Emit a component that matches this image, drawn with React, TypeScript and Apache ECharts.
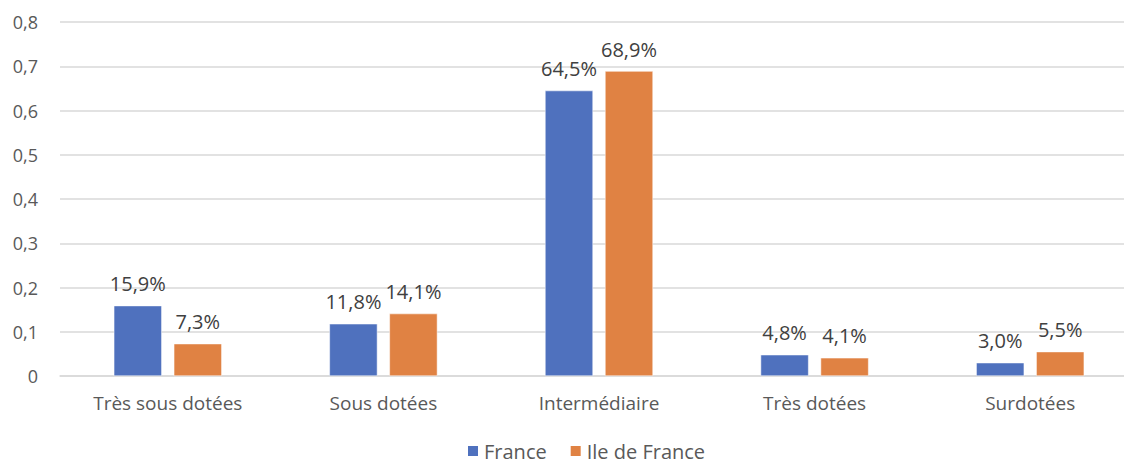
import React, { useEffect, useRef } from "react";
import * as echarts from "echarts";

const categories = ["Très sous dotées", "Sous dotées", "Intermédiaire", "Très dotées", "Surdotées"];
const franceValues = [0.159, 0.118, 0.645, 0.048, 0.03];
const idfValues = [0.073, 0.141, 0.689, 0.041, 0.055];
const yTicks = [0, 0.1, 0.2, 0.3, 0.4, 0.5, 0.6, 0.7, 0.8];

const FONT = "'Open Sans', 'Liberation Sans', sans-serif";
const fmtPct = (v: number) => (v * 100).toFixed(1).replace(".", ",") + "%";
const fmtTick = (v: number) => (v === 0 ? "0" : v.toFixed(1).replace(".", ","));

export default function App() {
  const ref = useRef<HTMLDivElement>(null);
  useEffect(() => {
    if (!ref.current) return;
    const chart = echarts.init(ref.current, undefined, { renderer: "svg" });
    const label = {
      show: true,
      position: "top" as const,
      distance: 12,
      formatter: (p: any) => fmtPct(p.value),
      color: "#404040",
      fontSize: 20,
      fontFamily: FONT,
    };
    chart.setOption({
      animation: false,
      backgroundColor: "#ffffff",
      grid: { left: 60, top: 22, bottom: 87, right: 2 },
      legend: {
        top: 441,
        left: 461,
        padding: [0, 5, 0, 5],
        itemWidth: 12,
        itemHeight: 12,
        itemGap: 22,
        icon: "rect",
        textStyle: { color: "#595959", fontSize: 20, fontFamily: FONT },
        data: ["France", "Ile de France"],
      },
      xAxis: {
        type: "category",
        data: categories,
        axisLine: { lineStyle: { color: "#d9d9d9", width: 1.5 } },
        axisTick: { show: false },
        axisLabel: { color: "#595959", fontSize: 19, fontFamily: FONT, margin: 17 },
      },
      yAxis: {
        type: "value",
        min: yTicks[0],
        max: yTicks[yTicks.length - 1],
        interval: 0.1,
        axisLine: { show: false },
        axisTick: { show: false },
        splitLine: { lineStyle: { color: "#d9d9d9", width: 1.5 } },
        axisLabel: {
          color: "#595959",
          fontSize: 18,
          fontFamily: FONT,
          margin: 22,
          formatter: (v: number) => fmtTick(v),
        },
      },
      series: [
        {
          name: "France",
          type: "bar",
          data: franceValues,
          barWidth: 48,
          barGap: "25%",
          itemStyle: { color: "#4f71be", borderColor: "#ffffff", borderWidth: 0.5 },
          label,
        },
        {
          name: "Ile de France",
          type: "bar",
          data: idfValues,
          barWidth: 48,
          itemStyle: { color: "#e08243", borderColor: "#ffffff", borderWidth: 0.5 },
          label,
        },
      ],
    });
    return () => chart.dispose();
  }, []);
  return (
    <div
      style={{ position: "fixed", left: 0, top: 0, width: 1124, height: 463, overflow: "hidden", background: "#fff" }}
    >
      <div ref={ref} style={{ width: 1140, height: 463 }} />
    </div>
  );
}
